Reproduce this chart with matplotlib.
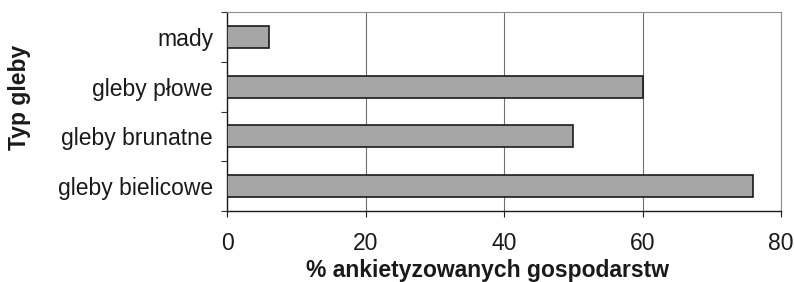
import matplotlib
matplotlib.use("Agg")
from matplotlib import pyplot as plt
import numpy as np

plt.rcParams['font.family'] = ['Liberation Sans', 'DejaVu Sans']

# data, bottom to top
soils = ["gleby bielicowe", "gleby brunatne", "gleby płowe", "mady"]
share = [76, 50, 60, 6]

fig = plt.figure(figsize=(7.94, 2.82), dpi=100)
ax = fig.add_axes([227/794, 1 - 211/282, (781 - 227)/794, (211 - 12)/282])

pos = np.arange(len(soils))
ax.barh(pos, share, height=0.44, color='#a6a6a6', edgecolor='#1a1a1a', linewidth=1.2, zorder=3)

ax.set_xlim(0, 80)
ax.set_ylim(-0.5, len(soils) - 0.5)
ax.set_xticks([0, 20, 40, 60, 80])
ax.set_yticks(pos)
ax.set_yticklabels(soils)
ax.set_yticks(np.arange(-0.5, len(soils), 1), minor=True)

ax.grid(axis='x', color='#707070', linewidth=0.8, zorder=0)
ax.tick_params(axis='y', which='major', length=0, pad=10, labelsize=16.5, colors='#1a1a1a')
ax.tick_params(axis='y', which='minor', length=4, width=0.8, direction='out', color='#333333')
ax.tick_params(axis='x', length=4, width=0.8, pad=11, labelsize=16.5, colors='#1a1a1a')

for s in ['top', 'right']:
    ax.spines[s].set_color('#909090')
    ax.spines[s].set_linewidth(0.8)
for s in ['left', 'bottom']:
    ax.spines[s].set_color('#1a1a1a')
    ax.spines[s].set_linewidth(1.0)

# axis titles placed as in the reference
fig.text(487/794, 1 - 277/282, "% ankietyzowanych gospodarstw", fontsize=16.5, fontweight='bold',
         ha='center', va='baseline', color='#1a1a1a')
fig.text(20/794, 1 - 97/282, "Typ gleby", rotation=90, fontsize=16.5, fontweight='bold',
         ha='center', va='center', color='#1a1a1a')

fig.savefig("out.png", dpi=100)
